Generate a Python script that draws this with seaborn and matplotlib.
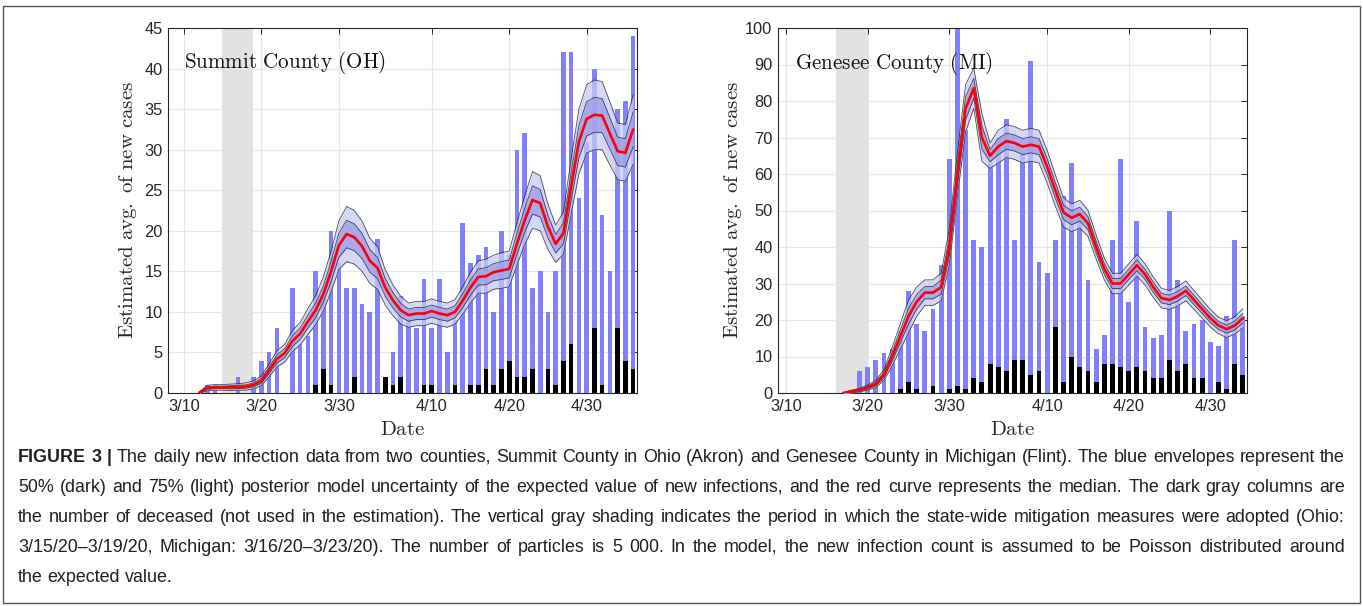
import numpy as np
import pandas as pd
import matplotlib
matplotlib.use("Agg")
import matplotlib.pyplot as plt
import matplotlib.transforms as mtransforms
from matplotlib.patches import Rectangle
from matplotlib import font_manager
import seaborn as sns

# ---------------- data ----------------
tick_pos = [0, 10, 20, 32, 42, 52]
tick_labels = ["3/10", "3/20", "3/30", "4/10", "4/20", "4/30"]

# Summit County (OH): day index 0..58
oh_days = list(range(0, 59))
oh_cases = [0, 0, 0, 1, 1, 0, 0, 2, 0, 2,
            4, 5, 8, 0, 13, 6, 7, 15, 12, 20,
            16, 13, 13, 11, 10, 19, 2, 5, 12, 9,
            8, 14, 8, 14, 5, 9, 21, 16, 17, 18,
            10, 20, 17, 30, 32, 13, 15, 10, 15, 42,
            42, 24, 31, 40, 22, 15, 35, 36, 44]
oh_deaths = [0, 0, 0, 0, 0, 0, 0, 0, 0, 0,
             0, 0, 0, 0, 0, 0, 0, 1, 3, 1,
             0, 0, 2, 0, 0, 0, 2, 1, 2, 0,
             0, 1, 1, 0, 0, 1, 0, 1, 1, 3,
             1, 3, 4, 2, 2, 3, 0, 3, 1, 4,
             6, 0, 0, 8, 1, 0, 8, 4, 3]
oh_curve_days = list(range(2, 59))
oh_median = [0.05, 0.6, 0.7, 0.7, 0.7, 0.75, 0.8, 1.0, 1.5, 2.8,
             4.2, 4.9, 6.4, 7.3, 8.8, 10.2, 12.2, 15.0, 18.2, 19.6,
             19.2, 18.1, 16.3, 15.4, 13.0, 11.4, 10.2, 9.6, 9.8, 9.8,
             10.1, 9.8, 9.6, 10.0, 11.4, 13.0, 14.3, 14.4, 14.9, 15.1,
             15.3, 18.4, 21.3, 23.8, 23.4, 20.5, 18.4, 19.7, 25.5, 31.0,
             33.8, 34.3, 34.2, 32.0, 29.8, 29.6, 32.5]
oh_hw75 = [0.1, 0.35, 0.35, 0.35, 0.4, 0.4, 0.45, 0.5, 0.6, 0.8,
           1.0, 1.1, 1.3, 1.4, 1.6, 1.8, 2.1, 2.5, 3.0, 3.4,
           3.3, 3.1, 2.8, 2.6, 2.2, 1.9, 1.7, 1.5, 1.5, 1.5,
           1.5, 1.5, 1.5, 1.5, 1.7, 1.9, 2.0, 2.1, 2.1, 2.2,
           2.2, 2.6, 3.0, 3.5, 3.4, 2.8, 2.3, 2.6, 3.4, 4.0,
           4.2, 4.3, 4.2, 3.9, 3.5, 3.5, 4.3]
oh_hw50 = [0.05, 0.15, 0.15, 0.15, 0.2, 0.2, 0.2, 0.25, 0.3, 0.4,
           0.5, 0.55, 0.65, 0.7, 0.8, 0.9, 1.0, 1.25, 1.5, 1.7,
           1.65, 1.55, 1.4, 1.3, 1.1, 0.95, 0.85, 0.75, 0.75, 0.75,
           0.75, 0.75, 0.75, 0.75, 0.85, 0.95, 1.0, 1.05, 1.05, 1.1,
           1.1, 1.3, 1.5, 1.75, 1.7, 1.4, 1.15, 1.3, 1.7, 2.0,
           2.1, 2.15, 2.1, 1.95, 1.75, 1.75, 2.15]

# Genesee County (MI): day index 0..56
mi_days = list(range(0, 57))
mi_cases = [0, 0, 0, 0, 0, 0, 0, 0, 0, 6,
            7, 9, 11, 12, 17, 28, 19, 17, 23, 35,
            64, 104, 72, 42, 40, 63, 70, 75, 42, 66,
            91, 36, 33, 42, 54, 63, 50, 31, 12, 16,
            42, 64, 25, 47, 18, 15, 16, 50, 31, 17,
            19, 20, 14, 13, 21, 42, 21]
mi_deaths = [0, 0, 0, 0, 0, 0, 0, 0, 0, 0,
             0, 0, 0, 0, 1, 3, 1, 0, 2, 0,
             1, 2, 1, 4, 3, 8, 7, 6, 9, 9,
             5, 6, 0, 18, 3, 10, 7, 6, 3, 8,
             8, 7, 6, 7, 6, 4, 4, 9, 6, 8,
             4, 4, 0, 3, 1, 8, 5]
mi_curve_days = list(range(7, 57))
mi_median = [0.0, 0.4, 0.8, 1.5, 2.5, 5.0, 10.0, 15.5, 21.0, 25.0,
             27.5, 27.5, 29.0, 40.0, 60.0, 78.0, 83.5, 70.0, 65.0, 67.5,
             69.0, 68.5, 67.5, 68.0, 67.5, 62.0, 55.5, 49.5, 48.0, 49.0,
             46.5, 40.0, 34.0, 30.0, 30.0, 32.5, 35.0, 32.5, 29.0, 26.0,
             25.5, 26.5, 28.0, 25.5, 23.0, 20.5, 18.5, 17.5, 18.5, 20.5]
mi_hw75 = [0.2, 0.4, 0.5, 0.7, 1.0, 1.5, 2.5, 3.5, 4.5, 4.0,
           3.5, 3.5, 3.8, 5.0, 6.0, 6.5, 5.5, 6.5, 3.5, 4.5,
           4.5, 4.5, 4.5, 4.5, 4.5, 4.5, 4.3, 4.0, 3.8, 3.8,
           3.6, 3.3, 3.0, 2.8, 2.8, 2.9, 3.0, 2.9, 2.8, 2.7,
           2.6, 2.7, 2.7, 2.6, 2.5, 2.4, 2.3, 2.3, 2.4, 2.6]
mi_hw50 = [0.1, 0.2, 0.25, 0.35, 0.5, 0.75, 1.2, 1.7, 2.2, 2.0,
           1.7, 1.7, 1.9, 2.5, 3.0, 3.2, 2.7, 3.2, 1.7, 2.2,
           2.2, 2.2, 2.2, 2.2, 2.2, 2.2, 2.1, 2.0, 1.9, 1.9,
           1.8, 1.6, 1.5, 1.4, 1.4, 1.4, 1.5, 1.4, 1.4, 1.3,
           1.3, 1.3, 1.3, 1.3, 1.2, 1.2, 1.1, 1.1, 1.2, 1.3]

caption_lines = [
    [("FIGURE 3 |", True), ("The daily new infection data from two counties, Summit County in Ohio (Akron) and Genesee County in Michigan (Flint). The blue envelopes represent the", False)],
    [("50% (dark) and 75% (light) posterior model uncertainty of the expected value of new infections, and the red curve represents the median. The dark gray columns are", False)],
    [("the number of deceased (not used in the estimation). The vertical gray shading indicates the period in which the state-wide mitigation measures were adopted (Ohio:", False)],
    [("3/15/20\u20133/19/20, Michigan: 3/16/20\u20133/23/20). The number of particles is 5 000. In the model, the new infection count is assumed to be Poisson distributed around", False)],
    [("the expected value.", False)],
]

# ---------------- style ----------------
sns.set_style("white")
plt.rcParams["mathtext.fontset"] = "cm"
plt.rcParams["font.family"] = ["Liberation Sans", "DejaVu Sans"]

W, H = 1363, 606
fig = plt.figure(figsize=(W / 100, H / 100), dpi=100)
ax1 = fig.add_axes([168 / W, 1 - 393 / H, 469 / W, 365 / H])
ax2 = fig.add_axes([778 / W, 1 - 393 / H, 469 / W, 365 / H])

BAR = "#8080ff"
AXC = "#262626"


def panel(ax, days, cases, deaths, cdays, med, hw75, hw50, xlim, ylim, yticks,
          shade, title, title_xy, ylab_x):
    ax.axvspan(shade[0], shade[1], color="#e2e2e2", lw=0, zorder=0.2)
    df = pd.DataFrame({"day": days, "cases": cases, "deaths": deaths})
    sns.barplot(data=df, x="day", y="cases", native_scale=True, width=0.6,
                color=BAR, saturation=1, errorbar=None, ax=ax, linewidth=0,
                zorder=2)
    sns.barplot(data=df, x="day", y="deaths", native_scale=True, width=0.6,
                color="black", saturation=1, errorbar=None, ax=ax, linewidth=0,
                zorder=3)
    cd = np.array(cdays, dtype=float)
    m = np.array(med)
    o = np.array(hw75)
    i = np.array(hw50)
    ax.fill_between(cd, m - o, m + o, color="#c8caf5", alpha=0.75, lw=0, zorder=4)
    ax.fill_between(cd, m - i, m + i, color="#9a9bec", alpha=0.75, lw=0, zorder=4.5)
    for edge in (m - o, m + o, m - i, m + i):
        ax.plot(cd, edge, color="#222222", lw=0.6, alpha=0.8, zorder=5)
    sns.lineplot(x=cd, y=m, color="#ff0000", lw=1.9, ax=ax, zorder=6)

    ax.set_xlim(*xlim)
    ax.set_ylim(*ylim)
    ax.set_xticks(tick_pos)
    ax.set_xticklabels(tick_labels)
    ax.set_yticks(yticks)
    ax.set_yticklabels([str(v) for v in yticks])
    ax.grid(True, color="#e6e6e6", lw=0.8)
    ax.set_axisbelow(True)
    ax.tick_params(direction="in", top=True, right=True, length=4, width=0.7,
                   colors=AXC, labelsize=11.8, pad=4)
    for s in ax.spines.values():
        s.set_visible(True)
        s.set_color(AXC)
        s.set_linewidth(0.8)
    ax.set_xlabel(r"$\mathrm{Date}$", fontsize=15, color=AXC)
    ax.set_ylabel(r"$\mathrm{Estimated\ avg.\ of\ new\ cases}$", fontsize=15,
                  color=AXC)
    ax.xaxis.set_label_coords(0.5, -0.101)
    ax.xaxis.label.set_va("center")
    ax.yaxis.set_label_coords(ylab_x, 0.5)
    ax.yaxis.label.set_va("center")
    ax.text(title_xy[0], title_xy[1], title, fontsize=15.2, ha="left",
            va="center", color="#111111", zorder=8)


panel(ax1, oh_days, oh_cases, oh_deaths, oh_curve_days, oh_median, oh_hw75,
      oh_hw50, (-2.06, 58.5), (0, 45), list(range(0, 46, 5)), (4.9, 8.95),
      r"$\mathrm{Summit\ County\ (OH)}$", (0.0, 40.8), -0.085)
panel(ax2, mi_days, mi_cases, mi_deaths, mi_curve_days, mi_median, mi_hw75,
      mi_hw50, (-1.0, 56.5), (0, 100), list(range(0, 101, 10)), (6.1, 10.1),
      r"$\mathrm{Genesee\ County\ (MI)}$", (1.1, 90.4), -0.096)

# ---------------- caption (justified lines) ----------------
names = {f.name for f in font_manager.fontManager.ttflist}
cap_family = "Liberation Sans Narrow" if "Liberation Sans Narrow" in names else "Liberation Sans"
ident = mtransforms.IdentityTransform()
renderer = fig.canvas.get_renderer()
x_left, x_right = 18, 1345
line_y = [456, 486, 516, 546, 576]


def split_words(segs):
    out = []
    for txt, bold in segs:
        for w in txt.split(" "):
            if w:
                out.append((w, bold))
    return out


def natural_width(size):
    best = 0
    for segs in caption_lines[:-1]:
        total = 0
        ws = split_words(segs)
        for w, bold in ws:
            t = fig.text(0, 0, w, transform=ident, fontsize=size,
                         family=cap_family,
                         weight="bold" if bold else "normal")
            total += t.get_window_extent(renderer).width
            t.remove()
        total += (len(ws) - 1) * size * 100 / 72 * 0.278
        best = max(best, total)
    return best


s0 = 12.0
cap_size = s0 * (x_right - x_left) / natural_width(s0) * 0.995
px = cap_size * 100 / 72

for li, segs in enumerate(caption_lines):
    words = split_words(segs)
    arts = []
    for w, bold in words:
        t = fig.text(0, 0, w, transform=ident, fontsize=cap_size,
                     family=cap_family,
                     weight="bold" if bold else "normal", color="#231f20",
                     va="baseline", ha="left")
        arts.append(t)
    widths = [a.get_window_extent(renderer).width for a in arts]
    nat_gap = px * 0.278
    if li < len(caption_lines) - 1 and len(arts) > 1:
        gap = (x_right - x_left - sum(widths)) / (len(arts) - 1)
    else:
        gap = nat_gap
    x = x_left
    base_y = round(H - line_y[li] - px * 0.36)
    for a, wdt in zip(arts, widths):
        a.set_position((x, base_y))
        x += wdt + gap

fig.add_artist(Rectangle((2.5, H - 603), 1357, 597, transform=ident,
                         fill=False, edgecolor="#555555", lw=1.0))

fig.savefig("out.png", dpi=100)
